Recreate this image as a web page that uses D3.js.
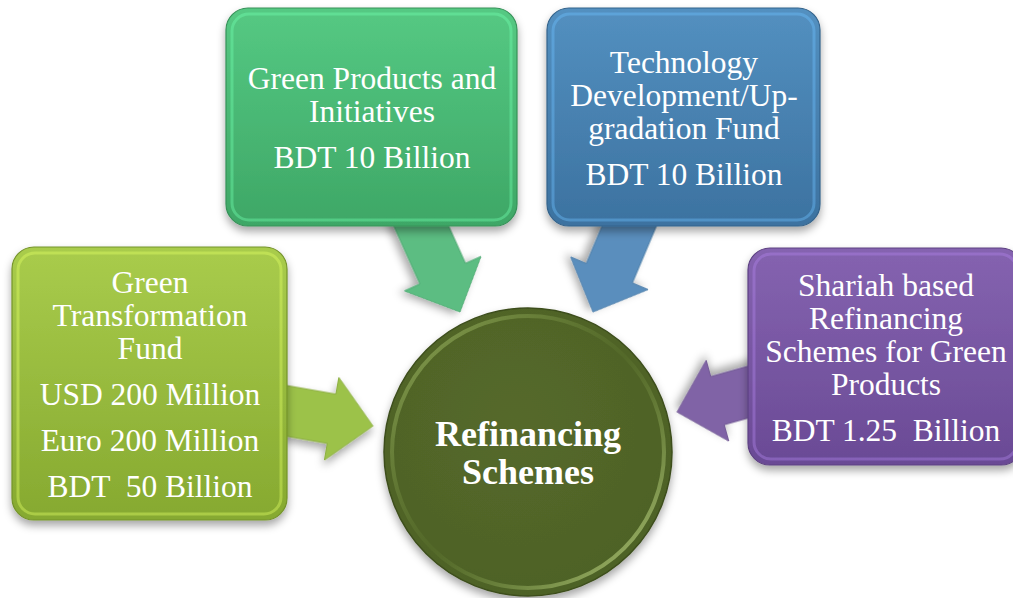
<!DOCTYPE html>
<html>
<head>
<meta charset="utf-8">
<script src="https://cdn.jsdelivr.net/npm/d3@7"></script>
<style>
  body { margin: 0; background: #fff; }
  svg { display: block; }
</style>
</head>
<body>
<script>
const W = 1013, H = 598;

// diagram content
const boxTitles = [
  ['Green', 'Transformation', 'Fund'],
  ['Green Products and', 'Initiatives'],
  ['Technology', 'Development/Up-', 'gradation Fund'],
  ['Shariah based', 'Refinancing', 'Schemes for Green', 'Products']
];
const boxAmounts = [
  ['USD 200 Million', 'Euro 200 Million', 'BDT  50 Billion'],
  ['BDT 10 Billion'],
  ['BDT 10 Billion'],
  ['BDT 1.25  Billion']
];
const centerLabel = ['Refinancing', 'Schemes'];

// layout (position / style kept apart from the content)
const boxes = [
  {x: 12, y: 247, w: 275, h: 273, top: '#a9cc4c', bot: '#86a930', arrow: '#9cc24a', cx: 150, ty: 282, start: [270, 408], tip: [373, 426]},
  {x: 226, y: 8, w: 291, h: 218, top: '#55c983', bot: '#3ea766', arrow: '#5bbd82', cx: 372, ty: 78, start: [414, 210], tip: [460, 312]},
  {x: 547, y: 8, w: 273, h: 218, top: '#5390c0', bot: '#3c72a0', arrow: '#5a8ebd', cx: 684, ty: 62, start: [636, 210], tip: [593, 312]},
  {x: 748, y: 248, w: 275, h: 217, top: '#8563b0', bot: '#6a4a95', arrow: '#8064a6', cx: 886, ty: 285, start: [770, 386], tip: [677, 412]}
];
const LINE = 33, GAP = 46;
const circ = {cx: 528, cy: 452, r: 144};

const svg = d3.select('body').append('svg')
  .attr('width', W).attr('height', H);
const defs = svg.append('defs');

const sh = defs.append('filter').attr('id', 'shadow')
  .attr('x', '-20%').attr('y', '-20%').attr('width', '140%').attr('height', '150%');
sh.append('feDropShadow').attr('dx', 0).attr('dy', 5).attr('stdDeviation', 4)
  .attr('flood-color', '#000').attr('flood-opacity', 0.35);

boxes.forEach((b, i) => {
  const g = defs.append('linearGradient').attr('id', 'bg' + i)
    .attr('x1', 0).attr('y1', 0).attr('x2', 0).attr('y2', 1);
  g.append('stop').attr('offset', '0%').attr('stop-color', b.top);
  g.append('stop').attr('offset', '100%').attr('stop-color', b.bot);
});

const cg = defs.append('radialGradient').attr('id', 'circFill')
  .attr('cx', '45%').attr('cy', '40%').attr('r', '60%');
cg.append('stop').attr('offset', '0%').attr('stop-color', '#55692b');
cg.append('stop').attr('offset', '100%').attr('stop-color', '#4e6226');

const rim = defs.append('linearGradient').attr('id', 'rim')
  .attr('x1', 0).attr('y1', 0).attr('x2', 1).attr('y2', 1);
rim.append('stop').attr('offset', '0%').attr('stop-color', '#b7d27a').attr('stop-opacity', 0.6);
rim.append('stop').attr('offset', '50%').attr('stop-color', '#6e8a3a').attr('stop-opacity', 0.15);
rim.append('stop').attr('offset', '100%').attr('stop-color', '#c9e08f').attr('stop-opacity', 0.85);

// arrow shape along +x
function arrowPath(len, bw, hw, hl) {
  const b = len - hl;
  return `M0,${-bw / 2}L${b},${-bw / 2}L${b},${-hw / 2}L${len},0L${b},${hw / 2}L${b},${bw / 2}L0,${bw / 2}Z`;
}

svg.append('g').selectAll('path').data(boxes).join('path')
  .attr('d', b => {
    const dx = b.tip[0] - b.start[0], dy = b.tip[1] - b.start[1];
    return arrowPath(Math.hypot(dx, dy), 50, 84, 42);
  })
  .attr('transform', b => {
    const ang = Math.atan2(b.tip[1] - b.start[1], b.tip[0] - b.start[0]) * 180 / Math.PI;
    return `translate(${b.start[0]},${b.start[1]})rotate(${ang})`;
  })
  .attr('fill', b => b.arrow)
  .attr('stroke', b => d3.color(b.arrow).darker(0.3))
  .attr('stroke-width', 1)
  .attr('filter', 'url(#shadow)');

// boxes
const bx = svg.append('g').selectAll('g').data(boxes).join('g');
bx.append('rect')
  .attr('x', b => b.x).attr('y', b => b.y)
  .attr('width', b => b.w).attr('height', b => b.h)
  .attr('rx', 22)
  .attr('fill', (b, i) => `url(#bg${i})`)
  .attr('stroke', b => d3.color(b.bot).darker(0.4))
  .attr('stroke-width', 1.2)
  .attr('filter', 'url(#shadow)');
bx.append('rect')
  .attr('x', b => b.x + 6).attr('y', b => b.y + 6)
  .attr('width', b => b.w - 12).attr('height', b => b.h - 12)
  .attr('rx', 17)
  .attr('fill', 'none')
  .attr('stroke', b => d3.color(b.top).brighter(0.8))
  .attr('stroke-opacity', 0.4)
  .attr('stroke-width', 3);

bx.each(function (b, i) {
  const g = d3.select(this);
  const lines = [];
  boxTitles[i].forEach((t, k) => lines.push({t, y: b.ty + k * LINE}));
  const last = b.ty + (boxTitles[i].length - 1) * LINE;
  boxAmounts[i].forEach((t, k) => lines.push({t, y: last + GAP + k * GAP}));
  g.selectAll('text').data(lines).join('text')
    .attr('x', b.cx).attr('y', d => d.y)
    .attr('text-anchor', 'middle')
    .attr('dominant-baseline', 'central')
    .attr('font-family', '"Liberation Serif", "Times New Roman", serif')
    .attr('font-size', 31.5)
    .attr('fill', '#fff')
    .style('white-space', 'pre')
    .text(d => d.t);
});

// center circle
const cgp = svg.append('g');
cgp.append('circle')
  .attr('cx', circ.cx).attr('cy', circ.cy).attr('r', circ.r)
  .attr('fill', 'url(#circFill)')
  .attr('stroke', '#3d4e1c').attr('stroke-width', 1.5)
  .attr('filter', 'url(#shadow)');
cgp.append('circle')
  .attr('cx', circ.cx).attr('cy', circ.cy).attr('r', circ.r - 8)
  .attr('fill', 'none')
  .attr('stroke', 'url(#rim)').attr('stroke-width', 4);

cgp.selectAll('text').data(centerLabel).join('text')
  .attr('x', circ.cx)
  .attr('y', (d, i) => 434 + i * 37.5)
  .attr('text-anchor', 'middle')
  .attr('dominant-baseline', 'central')
  .attr('font-family', '"Liberation Serif", "Times New Roman", serif')
  .attr('font-weight', 'bold')
  .attr('font-size', 36)
  .attr('fill', '#fff')
  .text(d => d);
</script>
</body>
</html>
